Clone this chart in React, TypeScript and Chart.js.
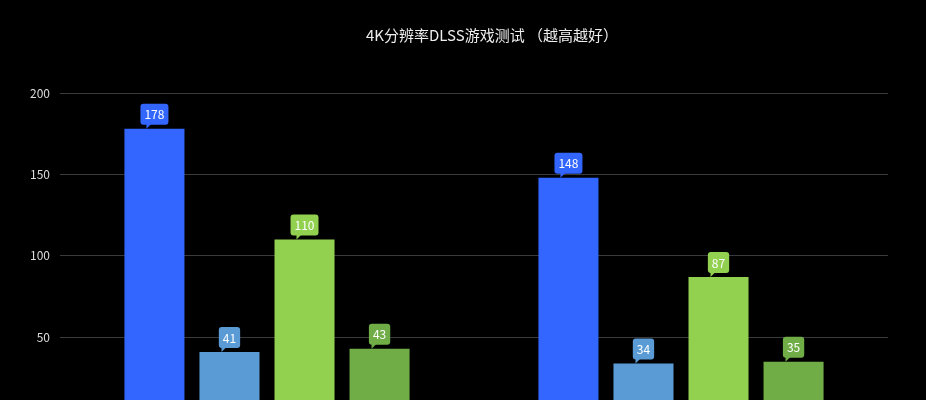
import { useEffect, useRef } from 'react';
import { Chart, registerables } from 'chart.js';

Chart.register(...registerables);

// categories sit below the visible area of the reference
const categories = ['游戏一', '游戏二'];
const seriesNames = ['系列一', '系列二', '系列三', '系列四'];
const seriesA = [178, 148];
const seriesB = [41, 34];
const seriesC = [110, 87];
const seriesD = [43, 35];
const barColors = ['#3366ff', '#5b9bd5', '#92d050', '#70ad47'];
const yTicks = [0, 50, 100, 150, 200];
const titleText = '4K分辨率DLSS游戏测试 （越高越好）';

const font = '"Noto Sans CJK SC", "Noto Sans", sans-serif';

// speech-bubble value labels above each bar
const bubbleLabels = {
  id: 'bubbleLabels',
  afterDatasetsDraw(chart: any) {
    const ctx = chart.ctx;
    ctx.save();
    ctx.font = `12px ${font}`;
    ctx.textAlign = 'center';
    ctx.textBaseline = 'middle';
    chart.data.datasets.forEach((ds: any, i: number) => {
      const meta = chart.getDatasetMeta(i);
      meta.data.forEach((bar: any, j: number) => {
        const text = String(ds.data[j]);
        const w = ctx.measureText(text).width + 8;
        const h = 21;
        const x = bar.x;
        const y = bar.y;
        const bottom = y - 4;
        const top = bottom - h;
        ctx.fillStyle = ds.backgroundColor;
        ctx.beginPath();
        ctx.roundRect(x - w / 2, top, w, h, 3);
        ctx.fill();
        ctx.beginPath();
        ctx.moveTo(x - 8, bottom - 1);
        ctx.lineTo(x - 8, y);
        ctx.lineTo(x - 3, bottom - 1);
        ctx.closePath();
        ctx.fill();
        ctx.fillStyle = '#ffffff';
        ctx.fillText(text, x, top + h / 2 + 0.5);
      });
    });
    ctx.restore();
  },
};

const titlePlugin = {
  id: 'offsetTitle',
  afterDraw(chart: any) {
    const ctx = chart.ctx;
    const area = chart.chartArea;
    ctx.save();
    ctx.font = `15px ${font}`;
    ctx.fillStyle = '#eeeeee';
    ctx.textAlign = 'center';
    ctx.textBaseline = 'middle';
    ctx.fillText(titleText, (area.left + area.right) / 2 + 18, 35);
    ctx.restore();
  },
};

export default function App() {
  const chartRef = useRef<HTMLCanvasElement>(null);
  const chartInstance = useRef<Chart | null>(null);

  useEffect(() => {
    if (!chartRef.current) return;
    document.body.style.margin = '0';
    document.body.style.background = '#000';

    if (chartInstance.current) {
      chartInstance.current.destroy();
    }

    const values = [seriesA, seriesB, seriesC, seriesD];

    chartInstance.current = new Chart(chartRef.current, {
      type: 'bar',
      data: {
        labels: categories,
        datasets: values.map((data, i) => ({
          label: seriesNames[i],
          data,
          backgroundColor: barColors[i],
          categoryPercentage: 0.725,
          barPercentage: 0.8,
        })),
      },
      options: {
        responsive: false,
        animation: false,
        layout: {
          padding: { top: 93, right: 38, left: 30, bottom: 3 },
        },
        plugins: {
          legend: { display: false },
          title: { display: false },
          tooltip: { enabled: false },
        },
        scales: {
          x: {
            display: false,
          },
          y: {
            min: 0,
            max: 200,
            afterBuildTicks: (scale: any) => {
              scale.ticks = yTicks.map((v) => ({ value: v }));
            },
            afterFit: (scale: any) => {
              scale.width = 30;
            },
            border: { display: false },
            grid: {
              color: '#3a3a3a',
              drawTicks: false,
            },
            ticks: {
              color: '#dddddd',
              padding: 10,
              font: { size: 12, family: font },
            },
          },
        },
      },
      plugins: [bubbleLabels, titlePlugin],
    });

    return () => {
      if (chartInstance.current) {
        chartInstance.current.destroy();
        chartInstance.current = null;
      }
    };
  }, []);

  return (
    <div style={{ position: 'fixed', top: 0, left: 0, width: 926, height: 436, background: '#000' }}>
      <canvas ref={chartRef} width={926} height={436}></canvas>
    </div>
  );
}
